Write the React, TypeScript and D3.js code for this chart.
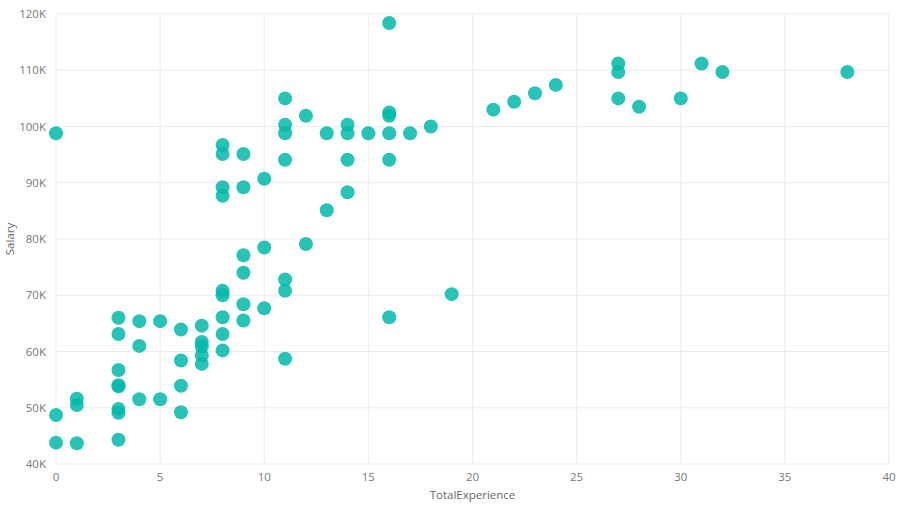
import React from "react";
import * as d3 from "d3";

const experience = [
  0, 0, 0,
  1, 1, 1,
  3, 3, 3, 3, 3.0, 3, 3, 3,
  4, 4, 4,
  5, 5,
  6, 6, 6, 6,
  7, 7, 7, 7, 7,
  8, 8, 8, 8, 8, 8, 8, 8, 8,
  9, 9, 9, 9, 9, 9,
  10, 10, 10,
  11, 11, 11, 11, 11, 11, 11,
  12, 12,
  13, 13,
  14, 14, 14, 14,
  15,
  16, 16, 16, 16, 16, 16,
  17, 18, 19, 21, 22, 23, 24,
  27, 27, 27, 28, 30, 31, 32, 38,
];

const salary = [
  98800, 48700, 43800,
  51600, 50500, 43700,
  66000, 63100, 56700, 54000, 53800, 49800, 49100, 44300,
  65400, 61000, 51500,
  65400, 51500,
  63900, 58400, 53900, 49200,
  64600, 61700, 60900, 59300, 57800,
  96700, 95100, 89200, 87700, 70800, 70000, 66100, 63100, 60200,
  95100, 89200, 77100, 74000, 68400, 65500,
  90700, 78500, 67700,
  105000, 100300, 98800, 94100, 72800, 70800, 58700,
  101900, 79100,
  98800, 85100,
  100300, 98800, 94100, 88300,
  98800,
  118400, 102500, 101900, 98800, 94100, 66100,
  98800, 100000, 70200, 103000, 104400, 105900, 107400,
  111200, 109700, 105000, 103500, 105000, 111200, 109700, 109700,
];

const xTicks = [0, 5, 10, 15, 20, 25, 30, 35, 40];
const yTicks = [40000, 50000, 60000, 70000, 80000, 90000, 100000, 110000, 120000];
const xTitle = "TotalExperience";
const yTitle = "Salary";

export default function App() {
  const W = 917;
  const H = 513;
  const left = 56;
  const right = 889;
  const top = 14;
  const bottom = 464;
  const x = d3.scaleLinear().domain([0, 40]).range([left, right]);
  const y = d3.scaleLinear().domain([40000, 120000]).range([bottom, top]);
  const font = "'Segoe UI', 'Open Sans', 'Noto Sans', sans-serif";
  const fmt = (v: number) => `${v / 1000}K`;

  return (
    <svg
      width={W}
      height={H}
      style={{ position: "absolute", left: 0, top: 0, background: "#fff" }}
    >
      <g>
        {yTicks.map((t) => (
          <line
            key={"gy" + t}
            x1={left}
            x2={right}
            y1={y(t)}
            y2={y(t)}
            stroke="#ececec"
            strokeWidth={1}
          />
        ))}
        {xTicks.map((t) => (
          <line
            key={"gx" + t}
            x1={x(t)}
            x2={x(t)}
            y1={top}
            y2={bottom}
            stroke="#ececec"
            strokeWidth={1}
          />
        ))}
      </g>
      <g fontFamily={font} fontSize={11.5} fill="#777">
        {yTicks.map((t) => (
          <text key={"ty" + t} x={46} y={y(t)} dy="0.35em" textAnchor="end">
            {fmt(t)}
          </text>
        ))}
        {xTicks.map((t) => (
          <text key={"tx" + t} x={x(t)} y={481} textAnchor="middle">
            {t}
          </text>
        ))}
      </g>
      <text
        x={(left + right) / 2}
        y={499}
        textAnchor="middle"
        fontFamily={font}
        fontSize={11.5}
        fill="#666"
      >
        {xTitle}
      </text>
      <text
        transform={`translate(14, ${(top + bottom) / 2}) rotate(-90)`}
        textAnchor="middle"
        fontFamily={font}
        fontSize={11.5}
        fill="#666"
      >
        {yTitle}
      </text>
      <g>
        {experience.map((e, i) => (
          <circle
            key={i}
            cx={x(e)}
            cy={y(salary[i])}
            r={7}
            fill="#01B8AA"
            fillOpacity={0.85}
          />
        ))}
      </g>
    </svg>
  );
}
